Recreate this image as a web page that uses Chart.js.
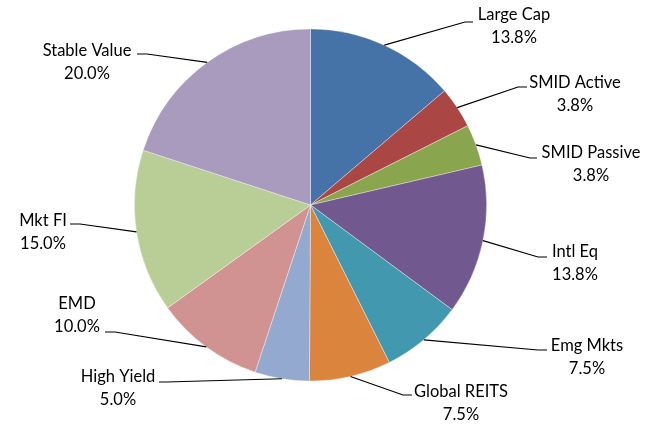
<!DOCTYPE html>
<html>
<head>
<meta charset="utf-8">
<script src="https://cdn.jsdelivr.net/npm/chart.js@4"></script>
<style>
  html, body { margin: 0; padding: 0; background: #fff; }
  #wrap { width: 659px; height: 424px; }
</style>
</head>
<body>
<div id="wrap"><canvas id="myChart" width="659" height="424"></canvas></div>
<script>
// Allocation by asset class (percent)
const categories = ['Large Cap', 'SMID Active', 'SMID Passive', 'Intl Eq', 'Emg Mkts',
  'Global REITS', 'High Yield', 'EMD', 'Mkt FI', 'Stable Value'];
const weights = [13.8, 3.8, 3.8, 13.8, 7.5, 7.5, 5.0, 10.0, 15.0, 20.0];
const sliceColors = ['#4572A7', '#AA4643', '#89A54E', '#71588F', '#4198AF',
  '#DB843D', '#93A9CF', '#D19392', '#B9CD96', '#A99BBD'];

// Where each callout sits: elbow of the leader, end of its short flat run,
// and the centre / first-line middle of the two-line text
const callouts = [
  {ex: 465, ey: 22, hx: 473, tx: 514, ty: 15},
  {ex: 518, ey: 87, hx: 527, tx: 575, ty: 83},
  {ex: 530, ey: 158, hx: 537, tx: 591, ty: 153},
  {ex: 538, ey: 257, hx: 547, tx: 575, ty: 252},
  {ex: 538, ey: 350, hx: 547, tx: 587, ty: 346},
  {ex: 403, ey: 395, hx: 412, tx: 461, ty: 392},
  {ex: 166, ey: 382, hx: 159, tx: 118, ty: 377},
  {ex: 115, ey: 332, hx: 105, tx: 77, ty: 304},
  {ex: 80, ey: 224, hx: 70, tx: 43, ty: 221},
  {ex: 147, ey: 54, hx: 137, tx: 87, ty: 51}
];

// Leader lines + name / percent text beside each slice
const calloutLabels = {
  id: 'calloutLabels',
  afterDatasetsDraw(chart) {
    const { ctx } = chart;
    const meta = chart.getDatasetMeta(0);
    ctx.save();
    ctx.font = '16.5px Lato, "Open Sans", sans-serif';
    ctx.fillStyle = '#000';
    ctx.strokeStyle = '#000';
    ctx.lineWidth = 1.2;
    ctx.textAlign = 'center';
    ctx.textBaseline = 'middle';
    meta.data.forEach((arc, i) => {
      const c = callouts[i];
      const mid = (arc.startAngle + arc.endAngle) / 2;
      const sx = arc.x + arc.outerRadius * Math.cos(mid);
      const sy = arc.y + arc.outerRadius * Math.sin(mid);
      ctx.beginPath();
      ctx.moveTo(sx, sy);
      ctx.lineTo(c.ex, c.ey);
      ctx.lineTo(c.hx, c.ey);
      ctx.stroke();
      ctx.fillText(categories[i], c.tx, c.ty);
      ctx.fillText(weights[i].toFixed(1) + '%', c.tx, c.ty + 23);
    });
    ctx.restore();
  }
};

const config = {
  type: 'pie',
  data: {
    labels: categories,
    datasets: [{
      data: weights,
      backgroundColor: sliceColors,
      borderColor: 'rgba(255,255,255,0.45)',
      borderWidth: 0.8
    }]
  },
  options: {
    responsive: false,
    animation: false,
    layout: { padding: { left: 134, right: 172, top: 28, bottom: 42 } },
    plugins: {
      legend: { display: false },
      tooltip: { enabled: false }
    }
  },
  plugins: [calloutLabels]
};

const myChart = new Chart(document.getElementById('myChart'), config);
</script>
</body>
</html>
